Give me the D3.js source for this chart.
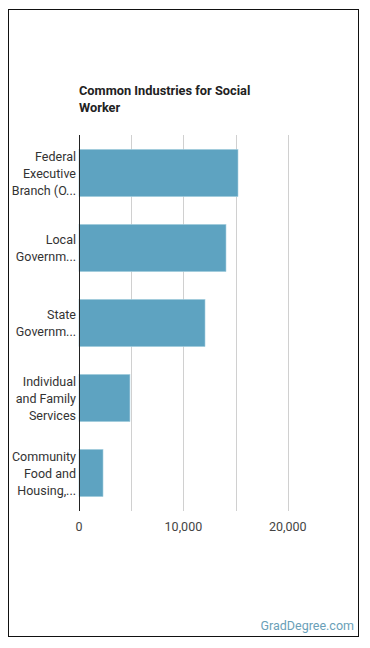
<!DOCTYPE html>
<html><head><meta charset="utf-8">
<script src="https://cdn.jsdelivr.net/npm/d3@7"></script>
<style>body{margin:0;background:#fff;font-family:Roboto,sans-serif;}</style>
</head><body>
<svg id="c" width="370" height="648"></svg>
<script>
const categories = [
  ["Federal","Executive","Branch (O..."],
  ["Local","Governm..."],
  ["State","Governm..."],
  ["Individual","and Family","Services"],
  ["Community","Food and","Housing,..."]
];
const values = [15230, 14080, 12070, 4880, 2300];
const tickValues = [0, 10000, 20000];
const gridValues = [5000, 10000, 15000, 20000];

const svg = d3.select("#c");
svg.append("rect").attr("x",8.5).attr("y",9.5).attr("width",350).attr("height",627)
  .attr("fill","none").attr("stroke","#111").attr("stroke-width",1);

svg.append("text").attr("x",79).attr("y",95).attr("font-size",12.8).attr("font-weight","bold").attr("fill","#222")
  .selectAll("tspan").data(["Common Industries for Social","Worker"]).join("tspan")
  .attr("x",79).attr("dy",(d,i)=>i?17:0).text(d=>d);

const x = d3.scaleLinear().domain([0,25000]).range([79,340]);
const y = d3.scaleBand().domain(d3.range(values.length)).range([135.5,510.5]).paddingInner(0.37).paddingOuter(0.185);

svg.append("g").selectAll("line").data(gridValues).join("line")
  .attr("x1",d=>Math.round(x(d))+0.5).attr("x2",d=>Math.round(x(d))+0.5)
  .attr("y1",135).attr("y2",511).attr("stroke","#d0d0d0").attr("stroke-width",1);

svg.append("g").selectAll("rect").data(values).join("rect")
  .attr("x",x(0)).attr("y",(d,i)=>y(i)).attr("width",d=>x(d)-x(0)).attr("height",y.bandwidth())
  .attr("fill","#5ea3c1").attr("stroke","#a9d0e0").attr("stroke-width",0.6);

svg.append("line").attr("x1",79.5).attr("x2",79.5).attr("y1",135).attr("y2",511).attr("stroke","#222").attr("stroke-width",1);

const lab = svg.append("g").attr("font-size",12.5).attr("fill","#333").attr("text-anchor","end");
categories.forEach((lines,i)=>{
  const cy = y(i)+y.bandwidth()/2;
  const t = lab.append("text").attr("y",cy - (lines.length-1)*17/2 + 4.5);
  lines.forEach((l,j)=>t.append("tspan").attr("x",76).attr("dy",j?17:0).text(l));
});

svg.append("g").attr("font-size",12.5).attr("fill","#444").attr("text-anchor","middle")
  .selectAll("text").data(tickValues).join("text")
  .attr("x",d=>x(d)).attr("y",531).text(d=>d3.format(",")(d));

svg.append("text").attr("x",354).attr("y",630).attr("text-anchor","end").attr("font-size",12.5)
  .attr("fill","#6a9fb8").text("GradDegree.com");
</script>
</body></html>
